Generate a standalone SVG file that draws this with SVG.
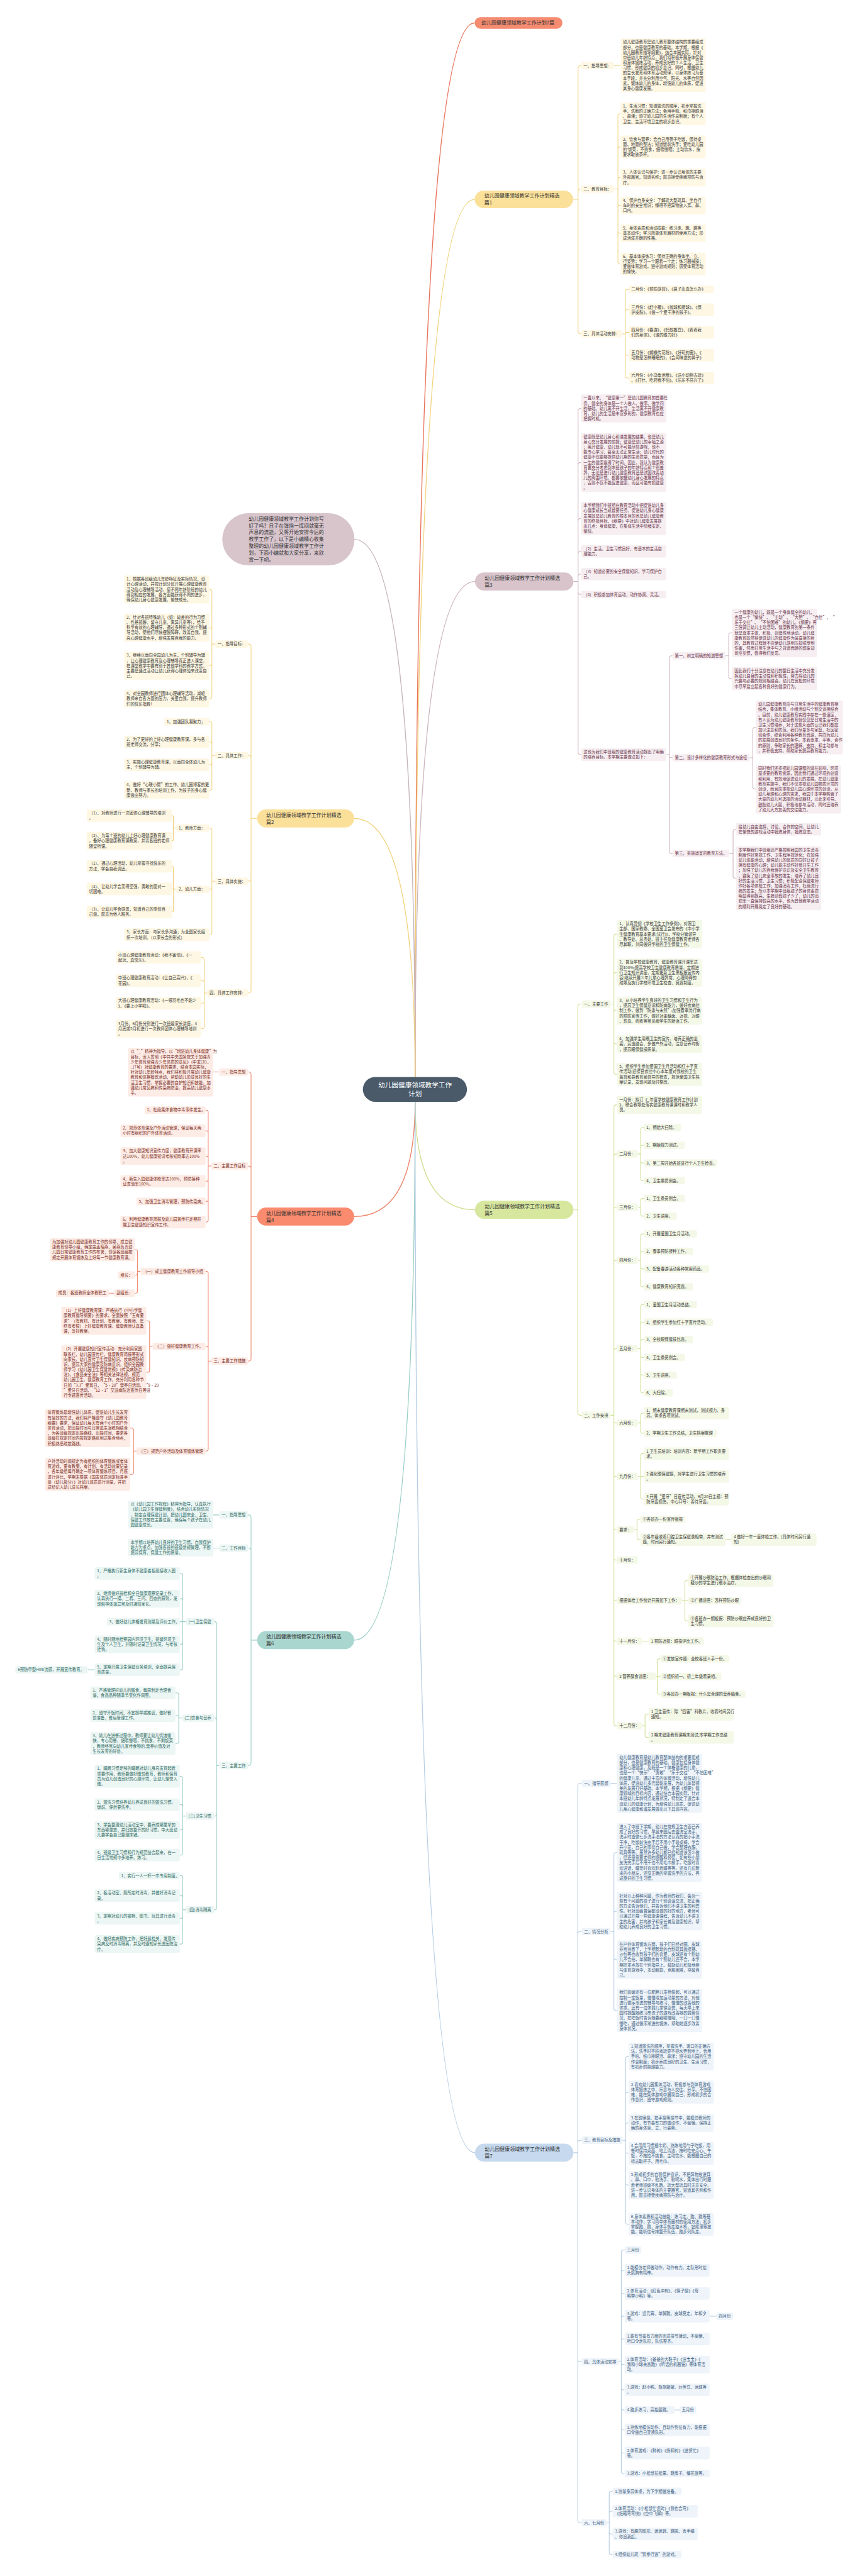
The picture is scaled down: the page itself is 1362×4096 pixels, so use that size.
<svg xmlns="http://www.w3.org/2000/svg" width="1362" height="4096" viewBox="0 0 1362 4096">
<style>
text{font-family:"Noto Sans CJK SC","Noto Sans",sans-serif}
.t{font-size:12px}
.n{font-size:15px;fill:#333}
.ty{fill:#3a3a3a}.tm{fill:#6b3349}.tg{fill:#3a3a3a}.tb{fill:#3d5d80}.to{fill:#7b2d1f}.tt{fill:#2e6b64}
.ry{fill:#fef7e3}.rm{fill:#f6eef1}.rg{fill:#f4f8e7}.rb{fill:#eef4fa}.ro{fill:#fdebe5}.rt{fill:#ecf6f4}
.l{fill:none;stroke-width:2}
.m{fill:none;stroke-width:2.6}
.ly{stroke:#f2d27c}.lm{stroke:#cdb5be}.lg{stroke:#cde08f}.lb{stroke:#b4cce4}.lo{stroke:#ee8468}.lt{stroke:#98cec5}
</style>
<rect width="1362" height="4096" fill="#ffffff"/>
<g transform="scale(0.532)">
<g id="connectors">
<path class="m" stroke="#e8735b" d="M1240 3219Q1240 68 1418 68.5"/>
<path class="m ly" d="M1240 3219Q1240 596 1418 596"/>
<path class="m" stroke="#c5b6bc" d="M1240 3219Q1240 1612 1059 1612"/>
<path class="m lm" d="M1240 3219Q1240 1738 1419 1738"/>
<path class="m ly" d="M1240 3219Q1240 2446 1058 2446"/>
<path class="m lg" d="M1240 3293Q1240 3616 1419 3616"/>
<path class="m lo" d="M1240 3293Q1240 3636 1058 3636"/>
<path class="m lt" d="M1240 3293Q1240 4902 1058 4902"/>
<path class="m lb" d="M1240 3293Q1240 6434 1419 6434"/>
<path class="l ly" d="M1712 596H1727V204Q1727 196 1735 196H1736M1712 596H1727V573Q1727 565 1735 565H1736M1712 596H1727V990Q1727 998 1735 998H1736M1834 196H1854M1834 565H1846V346.1Q1846 340.1 1852 340.1H1854M1834 565H1846V445.1Q1846 439.1 1852 439.1H1854M1834 565H1846V536.4Q1846 530.4 1852 530.4H1854M1834 565H1846V608.4Q1846 614.4 1852 614.4H1854M1834 565H1846V691.4Q1846 697.4 1852 697.4H1854M1834 565H1846V783.1Q1846 789.1 1852 789.1H1854M1858 998H1868V871Q1868 865 1874 865H1879M1858 998H1868V931.7Q1868 925.7 1874 925.7H1879M1858 998H1868V993.7H1879M1858 998H1868V1055.7Q1868 1061.7 1874 1061.7H1879M1858 998H1868V1123.7Q1868 1129.7 1874 1129.7H1879"/>
<path class="l lm" d="M1713 1738H1727V1228.8Q1727 1220.8 1735 1220.8H1736M1713 1738H1727V1390Q1727 1382 1735 1382H1736M1713 1738H1727V1557.5Q1727 1549.5 1735 1549.5H1736M1713 1738H1727V1655.7Q1727 1647.7 1735 1647.7H1736M1713 1738H1727V1723.7Q1727 1715.7 1735 1715.7H1736M1713 1738H1727V1769Q1727 1777 1735 1777H1736M1713 1738H1727V2247.7Q1727 2255.7 1735 2255.7H1736M1990 2255.7H2000V1966Q2000 1960 2006 1960H2009M1990 2255.7H2000V2259Q2000 2265 2006 2265H2009M1990 2255.7H2000V2545Q2000 2551 2006 2551H2009M2167 1960H2177V1897.6Q2177 1891.6 2183 1891.6H2187M2167 1960H2177V2022.1Q2177 2028.1 2183 2028.1H2187M2239 2265H2249V2180.3Q2249 2174.3 2255 2174.3H2258M2239 2265H2249V2352.6Q2249 2358.6 2255 2358.6H2258M2179 2551H2190V2484.7Q2190 2478.7 2196 2478.7H2199M2179 2551H2190V2618.7Q2190 2624.7 2196 2624.7H2199"/>
<path class="l lg" d="M1713 3616H1726V3009Q1726 3001 1734 3001H1738M1713 3616H1726V4222Q1726 4230 1734 4230H1738M1824 3001H1834V2797.8Q1834 2791.8 1840 2791.8H1843M1824 3001H1834V2912.8Q1834 2906.8 1840 2906.8H1843M1824 3001H1834V3014.8Q1834 3020.8 1840 3020.8H1843M1824 3001H1834V3114.4Q1834 3120.4 1840 3120.4H1843M1824 3001H1834V3205.1Q1834 3211.1 1840 3211.1H1843M1824 4230H1834V3308.4Q1834 3302.4 1840 3302.4H1843M1824 4230H1834V3455Q1834 3449 1840 3449H1843M1824 4230H1834V3614Q1834 3608 1840 3608H1843M1824 4230H1834V3773Q1834 3767 1840 3767H1843M1824 4230H1834V4037Q1834 4031 1840 4031H1843M1824 4230H1834V4247Q1834 4253 1840 4253H1843M1824 4230H1834V4407Q1834 4413 1840 4413H1843M1824 4230H1834V4566Q1834 4572 1840 4572H1843M1824 4230H1834V4657Q1834 4663 1840 4663H1843M1824 4230H1834V4778Q1834 4784 1840 4784H1843M1824 4230H1834V4899Q1834 4905 1840 4905H1843M1824 4230H1834V5004Q1834 5010 1840 5010H1843M1824 4230H1834V5152Q1834 5158 1840 5158H1843M1905 3449H1914V3376Q1914 3370 1920 3370H1924M1905 3449H1914V3429Q1914 3423 1920 3423H1924M1905 3449H1914V3470Q1914 3476 1920 3476H1924M1905 3449H1914V3523Q1914 3529 1920 3529H1924M1905 3608H1914V3588Q1914 3582 1920 3582H1924M1905 3608H1914V3629Q1914 3635 1920 3635H1924M1905 3767H1914V3694Q1914 3688 1920 3688H1924M1905 3767H1914V3746Q1914 3740 1920 3740H1924M1905 3767H1914V3787Q1914 3793 1920 3793H1924M1905 3767H1914V3840Q1914 3846 1920 3846H1924M1905 4031H1914V3905Q1914 3899 1920 3899H1924M1905 4031H1914V3958Q1914 3952 1920 3952H1924M1905 4031H1914V4010Q1914 4004 1920 4004H1924M1905 4031H1914V4051Q1914 4057 1920 4057H1924M1905 4031H1914V4104Q1914 4110 1920 4110H1924M1905 4031H1914V4157Q1914 4163 1920 4163H1924M1905 4253H1914V4229.7Q1914 4223.7 1920 4223.7H1924M1905 4253H1914V4278Q1914 4284 1920 4284H1924M1905 4413H1914V4350.7Q1914 4344.7 1920 4344.7H1924M1905 4413H1914V4412.7H1924M1905 4413H1914V4474.7Q1914 4480.7 1920 4480.7H1924M1893 4572H1903V4547Q1903 4541 1909 4541H1913M1893 4572H1903V4595.7Q1903 4601.7 1909 4601.7H1913M2167 4601.7H2185M2037 4784H2046V4729.7Q2046 4723.7 2052 4723.7H2056M2037 4784H2056M2037 4784H2046V4838.7Q2046 4844.7 2052 4844.7H2056M1917 4905H1938M1959 5010H1964V4964Q1964 4958 1970 4958H1973M1959 5010H1964V5011H1973M1959 5010H1964V5058Q1964 5064 1970 5064H1973M1917 5158H1927V5129.7Q1927 5123.7 1933 5123.7H1938M1917 5158H1927V5186.7Q1927 5192.7 1933 5192.7H1938"/>
<path class="l lb" d="M1713 6434H1726V5338Q1726 5330 1734 5330H1738M1713 6434H1726V5781Q1726 5773 1734 5773H1738M1713 6434H1726V6405Q1726 6397 1734 6397H1738M1713 6434H1726V7051Q1726 7059 1734 7059H1738M1713 6434H1726V7532Q1726 7540 1734 7540H1738M1824 5330H1843M1824 5773H1834V5543Q1834 5537 1840 5537H1843M1824 5773H1834V5718.2Q1834 5712.2 1840 5712.2H1843M1824 5773H1834V5851.2Q1834 5857.2 1840 5857.2H1843M1824 5773H1834V6002.9Q1834 6008.9 1840 6008.9H1843M1860 6397H1869V6152.8Q1869 6146.8 1875 6146.8H1878M1860 6397H1869V6259.1Q1869 6253.1 1875 6253.1H1878M1860 6397H1869V6351.4Q1869 6345.4 1875 6345.4H1878M1860 6397H1869V6430.1Q1869 6436.1 1875 6436.1H1878M1860 6397H1869V6524.8Q1869 6530.8 1875 6530.8H1878M1860 6397H1869V6642.1Q1869 6648.1 1875 6648.1H1878M1848 7059H1856V6731Q1856 6725 1862 6725H1866M1848 7059H1856V6791.7Q1856 6785.7 1862 6785.7H1866M1848 7059H1856V6860.7Q1856 6854.7 1862 6854.7H1866M1848 7059H1856V6928.7Q1856 6922.7 1862 6922.7H1866M1848 7059H1856V6996.7Q1856 6990.7 1862 6990.7H1866M1848 7059H1856V7061.4Q1856 7067.4 1862 7067.4H1866M1848 7059H1856V7136.7Q1856 7142.7 1862 7142.7H1866M1848 7059H1856V7197Q1856 7203 1862 7203H1866M1848 7059H1856V7256.7Q1856 7262.7 1862 7262.7H1866M1848 7059H1856V7325.7Q1856 7331.7 1862 7331.7H1866M1848 7059H1856V7387Q1856 7393 1862 7393H1866M2120 6922.7H2140M2016 7203H2030M1812 7540H1820V7452Q1820 7446 1826 7446H1830M1812 7540H1820V7511.7Q1820 7505.7 1826 7505.7H1830M1812 7540H1820V7567.7Q1820 7573.7 1826 7573.7H1830M1812 7540H1820V7629Q1820 7635 1826 7635H1830"/>
<path class="l ly" d="M768 2446H750V1933Q750 1925 742 1925H741M768 2446H750V2266Q750 2258 742 2258H741M768 2446H750V2626Q750 2634 742 2634H741M768 2446H750V2960Q750 2968 742 2968H741M643 1925H633V1767.8Q633 1761.8 627 1761.8H625M643 1925H633V1881.8Q633 1875.8 627 1875.8H625M643 1925H633V1983.8Q633 1989.8 627 1989.8H625M643 1925H633V2082.4Q633 2088.4 627 2088.4H625M643 2258H633V2163Q633 2157 627 2157H625M643 2258H633V2223.7Q633 2217.7 627 2217.7H625M643 2258H633V2279.7Q633 2285.7 627 2285.7H625M643 2258H633V2355.4Q633 2361.4 627 2361.4H625M643 2634H633V2481Q633 2475 627 2475H625M643 2634H633V2652Q633 2658 627 2658H625M643 2634H633V2787.7Q633 2793.7 627 2793.7H625M527 2475H518V2442.7Q518 2437.7 513 2437.7M527 2475H518V2508.4Q518 2513.4 513 2513.4M527 2658H518V2593.7Q518 2588.7 513 2588.7M527 2658H518V2656.7H513M527 2658H518V2720.7Q518 2725.7 513 2725.7M619 2968H610V2867.7Q610 2861.7 604 2861.7H600M619 2968H610V2936.7Q610 2930.7 604 2930.7H600M619 2968H610V2992.7Q610 2998.7 604 2998.7H600M619 2968H610V3068.4Q610 3074.4 604 3074.4H600"/>
<path class="l lo" d="M768 3636H750V3212Q750 3204 742 3204H741M768 3636H750V3493Q750 3485 742 3485H741M768 3636H750V4060Q750 4068 742 4068H741M655 3204H637M631 3485H622V3324Q622 3318 616 3318H614M631 3485H622V3385.7Q622 3379.7 616 3379.7H614M631 3485H622V3461.4Q622 3455.4 616 3455.4H614M631 3485H622V3524.7Q622 3530.7 616 3530.7H614M631 3485H622V3585Q622 3591 616 3591H614M631 3485H622V3646.7Q622 3652.7 616 3652.7H614M631 4068H622V3806Q622 3800 616 3800H614M631 4068H622V4030Q622 4024 616 4024H614M631 4068H622V4331Q622 4337 616 4337H614M420 3800H411V3741.1Q411 3735.1 405 3735.1H403M420 3800H411V3805Q411 3811 405 3811H403M420 3800H411V3859Q411 3865 405 3865H403M341 3865H325M456 4024H447V3953.8Q447 3947.8 441 3947.8H437M456 4024H447V4095.3Q447 4101.3 441 4101.3H437M408 4337H399V4274.2Q399 4268.2 393 4268.2H389M408 4337H399V4400.5Q399 4406.5 393 4406.5H389"/>
<path class="l lt" d="M768 4902H750V4536Q750 4528 742 4528H741M768 4902H750V4635Q750 4627 742 4627H741M768 4902H750V5269Q750 5277 742 5277H741M655 4528H637M655 4627H637M655 5277H647V4853Q647 4847 642 4847H640M655 5277H647V5141Q647 5135 642 5135H640M655 5277H647V5422Q647 5428 642 5428H640M655 5277H647V5702Q647 5708 642 5708H640M556 4847H546V4708.7Q546 4702.7 540 4702.7H537M556 4847H546V4784.4Q546 4778.4 540 4778.4H537M556 4847H537M556 4847H546V4908.4Q546 4914.4 540 4914.4H537M556 4847H546V4984.7Q546 4990.7 540 4990.7H537M283 4990.7H262M544 5135H534V5065.7Q534 5059.7 528 5059.7H524M544 5135H534V5127.7H524M544 5135H534V5205.1Q534 5211.1 528 5211.1H524M556 5428H546V5315.1Q546 5309.1 540 5309.1H537M556 5428H546V5399.7Q546 5393.7 540 5393.7H537M556 5428H546V5463.4Q546 5469.4 540 5469.4H537M556 5428H546V5538.7Q546 5544.7 540 5544.7H537M556 5708H546V5612Q546 5606 540 5606H537M556 5708H546V5671.7Q546 5665.7 540 5665.7H537M556 5708H546V5727.7Q546 5733.7 540 5733.7H537M556 5708H546V5804.4Q546 5810.4 540 5810.4H537"/>
</g>

<g id="root"><rect x="1084" y="3219" width="311" height="74" rx="37" fill="#4a5a69"/><text x="1240" y="3250" font-size="20" fill="#ffffff" text-anchor="middle"><tspan x="1240">幼儿园健康领域教学工作</tspan><tspan x="1240" dy="27">计划</tspan></text></g>

<g id="n-title"><rect x="1418" y="51" width="262" height="35" rx="17.5" fill="#f58b70"/><text class="n" x="1438" y="74">幼儿园健康领域教学工作计划7篇</text></g>

<g id="n-intro"><rect x="664" y="1534" width="395" height="156" rx="78" fill="#d8c5cc"/><text class="n" x="743" y="1556"><tspan x="743">幼儿园健康领域教学工作计划你写</tspan><tspan x="743" dy="20.4">好了吗？日子在弹指一挥间就毫无</tspan><tspan x="743" dy="20.4">声息的流逝，又将开始安排今后的</tspan><tspan x="743" dy="20.4">教学工作了，以下是小编精心收集</tspan><tspan x="743" dy="20.4">整理的幼儿园健康领域教学工作计</tspan><tspan x="743" dy="20.4">划，下面小编就和大家分享，来欣</tspan><tspan x="743" dy="20.4">赏一下吧。</tspan></text></g>

<!-- 篇1 -->
<g id="n-p1"><rect x="1418" y="570" width="294" height="52" rx="26" fill="#fbe09a"/><text class="n" x="1447" y="590"><tspan x="1447">幼儿园健康领域教学工作计划精选</tspan><tspan x="1447" dy="21">篇1</tspan></text></g>
<g id="p1-l1"><rect class="ry" x="1736" y="185" width="98" height="22" rx="4"/><text class="t ty" x="1743" y="200.3">一、指导思想：</text></g>
<g id="p1-b1"><rect class="ry" x="1854" y="115" width="254" height="160.6" rx="4"/><text class="t ty" x="1861" y="130.3"><tspan x="1861">幼儿健康教育是幼儿教育整体结构的重要组成</tspan><tspan x="1861" dy="15.4">部分，也是健康教育的基础。本学期，根据《</tspan><tspan x="1861" dy="15.4">幼儿园教育指导纲要》，结合本园实际，针对</tspan><tspan x="1861" dy="15.4">中班幼儿年龄特点，我们将积极开展身体保健</tspan><tspan x="1861" dy="15.4">和身体锻炼活动，养成良好的个人生活、卫生</tspan><tspan x="1861" dy="15.4">习惯，形成健康的初步意识。同时，根据幼儿</tspan><tspan x="1861" dy="15.4">的生长发育和体育活动规律，以身体练习为基</tspan><tspan x="1861" dy="15.4">本手段，并充分利用空气、阳光、水等自然因</tspan><tspan x="1861" dy="15.4">素，锻炼幼儿的身体，增强幼儿的体质，促进</tspan><tspan x="1861" dy="15.4">其身心健康发展。</tspan></text></g>
<g id="p1-l2"><rect class="ry" x="1736" y="554" width="98" height="22" rx="4"/><text class="t ty" x="1743" y="569.3">二、教育目标：</text></g>
<g id="p1-b2"><rect class="ry" x="1854" y="306" width="254" height="68.2" rx="4"/><text class="t ty" x="1861" y="321.3"><tspan x="1861">1、生活习惯：知道盥洗的顺序，初步掌握洗</tspan><tspan x="1861" dy="15.4">手、洗脸的正确方法；会用手帕、纸巾擦眼泪</tspan><tspan x="1861" dy="15.4">、鼻涕；遵守幼儿园的生活作息制度；有个人</tspan><tspan x="1861" dy="15.4">卫生、生活环境卫生的初步意识。</tspan></text></g>
<g id="p1-b3"><rect class="ry" x="1854" y="405" width="254" height="68.2" rx="4"/><text class="t ty" x="1861" y="420.3"><tspan x="1861">2、饮食与营养：会自己用筷子吃饭，保持桌</tspan><tspan x="1861" dy="15.4">面、地面的整洁；知道饭前洗手；爱吃幼儿园</tspan><tspan x="1861" dy="15.4">的'饭菜，不挑食，细嚼慢咽；主动饮水，按</tspan><tspan x="1861" dy="15.4">要求取放茶杯。</tspan></text></g>
<g id="p1-b4"><rect class="ry" x="1854" y="504" width="254" height="52.8" rx="4"/><text class="t ty" x="1861" y="519.3"><tspan x="1861">3、人体认识与保护：进一步认识身体的主要</tspan><tspan x="1861" dy="15.4">外部器官，知道名称；愿意接受疾病预防与治</tspan><tspan x="1861" dy="15.4">疗。</tspan></text></g>
<g id="p1-b5"><rect class="ry" x="1854" y="588" width="254" height="52.8" rx="4"/><text class="t ty" x="1861" y="603.3"><tspan x="1861">4、保护自身安全：了解玩大型玩具、坐自行</tspan><tspan x="1861" dy="15.4">车时的安全常识；懂得不把异物放入耳、鼻、</tspan><tspan x="1861" dy="15.4">口内。</tspan></text></g>
<g id="p1-b6"><rect class="ry" x="1854" y="671" width="254" height="52.8" rx="4"/><text class="t ty" x="1861" y="686.3"><tspan x="1861">5、身体素质和活动技能：练习走、跑、跳等</tspan><tspan x="1861" dy="15.4">基本动作；学习简单体育器材的使用方法；形</tspan><tspan x="1861" dy="15.4">成活泼开朗的性格。</tspan></text></g>
<g id="p1-b7"><rect class="ry" x="1854" y="755" width="254" height="68.2" rx="4"/><text class="t ty" x="1861" y="770.3"><tspan x="1861">6、基本体操练习：保持正确的身体坐、立、</tspan><tspan x="1861" dy="15.4">行姿势；学习一个跟着一个走；练习器械操；</tspan><tspan x="1861" dy="15.4">爱做体育游戏，遵守游戏规则；感受体育活动</tspan><tspan x="1861" dy="15.4">的愉快。</tspan></text></g>
<g id="p1-l3"><rect class="ry" x="1736" y="987" width="122" height="22" rx="4"/><text class="t ty" x="1743" y="1002.3">三、具体活动安排：</text></g>
<g id="p1-m1"><rect class="ry" x="1879" y="854" width="254" height="22" rx="4"/><text class="t ty" x="1886" y="869.3">二月份：《预防感冒》、《鼻子出血怎么办》</text></g>
<g id="p1-m2"><rect class="ry" x="1879" y="907" width="254" height="37.4" rx="4"/><text class="t ty" x="1886" y="922.3"><tspan x="1886">三月份：《赶小猪》、《抛球和接球》、《保</tspan><tspan x="1886" dy="15.4">护皮肤》、《做一个爱干净的孩子》、</tspan></text></g>
<g id="p1-m3"><rect class="ry" x="1879" y="975" width="254" height="37.4" rx="4"/><text class="t ty" x="1886" y="990.3"><tspan x="1886">四月份：《春游》、《蚂蚁搬豆》、《看看我</tspan><tspan x="1886" dy="15.4">们的身体》、《谁的眼力好》</tspan></text></g>
<g id="p1-m4"><rect class="ry" x="1879" y="1043" width="254" height="37.4" rx="4"/><text class="t ty" x="1886" y="1058.3"><tspan x="1886">五月份：《蝴蝶传花粉》、《好玩的圈》、《</tspan><tspan x="1886" dy="15.4">动物是怎样睡眠的》、《会闻味道的鼻子》</tspan></text></g>
<g id="p1-m5"><rect class="ry" x="1879" y="1111" width="254" height="37.4" rx="4"/><text class="t ty" x="1886" y="1126.3"><tspan x="1886">六月份：《小乌龟运粮》、《送小动物去玩》</tspan><tspan x="1886" dy="15.4">、《打针、吃药我不怕》、《乐乐不高兴了》</tspan></text></g>

<!-- 篇3 -->
<g id="n-p3"><rect x="1419" y="1711" width="294" height="54" rx="27" fill="#d9c4cb"/><text class="n" x="1448" y="1733"><tspan x="1448">幼儿园健康领域教学工作计划精选</tspan><tspan x="1448" dy="21">篇3</tspan></text></g>
<g id="p3-a"><rect class="rm" x="1736" y="1179" width="254" height="83.6" rx="4"/><text class="t tm" x="1743" y="1194.3"><tspan x="1743">一直以来，“健康第一”是幼儿园教育的首要任</tspan><tspan x="1743" dy="15.4">务。健全的身体是一个人做人、做事、做学问</tspan><tspan x="1743" dy="15.4">的基础。幼儿离不开生活，生活离不开健康教</tspan><tspan x="1743" dy="15.4">育，幼儿的生活是丰富多彩的，健康教育也应</tspan><tspan x="1743" dy="15.4">把握时机。</tspan></text></g>
<g id="p3-b"><rect class="rm" x="1736" y="1294" width="254" height="176" rx="4"/><text class="t tm" x="1743" y="1309.3"><tspan x="1743">健康既是幼儿身心和谐发展的结果，也是幼儿</tspan><tspan x="1743" dy="15.4">身心充分发展的前提；健康是幼儿的幸福之源</tspan><tspan x="1743" dy="15.4">；离开健康，幼儿就不可能尽情游戏，也不</tspan><tspan x="1743" dy="15.4">能专心学习，甚至无法正常生活；幼儿时代的</tspan><tspan x="1743" dy="15.4">健康不仅能够提供幼儿期的生命质量，而且为</tspan><tspan x="1743" dy="15.4">一生的健康赢得了时间。因此，我认为健康教</tspan><tspan x="1743" dy="15.4">育要充分考虑到本班孩子的年龄特点和个别差</tspan><tspan x="1743" dy="15.4">异，无论是进行幼儿健康教育还是试图改善幼</tspan><tspan x="1743" dy="15.4">儿的周围环境、都要依据幼儿身心发展的特点</tspan><tspan x="1743" dy="15.4">，否则不仅不能促进健康，而且可能有损健康</tspan><tspan x="1743" dy="15.4">。</tspan></text></g>
<g id="p3-c"><rect class="rm" x="1736" y="1500" width="254" height="99" rx="4"/><text class="t tm" x="1743" y="1515.3"><tspan x="1743">本学期我们中班组在教育活动中把促进幼儿身</tspan><tspan x="1743" dy="15.4">心健康成长当成首要任务。促进幼儿身心健康</tspan><tspan x="1743" dy="15.4">发展既是幼儿教育的根本目的也是幼儿健康教</tspan><tspan x="1743" dy="15.4">育的终极目标，《纲要》中对幼儿健康发展提</tspan><tspan x="1743" dy="15.4">出几点：身体健康，在集体生活中情绪安定、</tspan><tspan x="1743" dy="15.4">愉快。</tspan></text></g>
<g id="p3-d"><rect class="rm" x="1736" y="1629" width="254" height="37.4" rx="4"/><text class="t tm" x="1743" y="1644.3"><tspan x="1743">（2）生活、卫生习惯良好，有基本的生活自</tspan><tspan x="1743" dy="15.4">理能力。</tspan></text></g>
<g id="p3-e"><rect class="rm" x="1736" y="1697" width="254" height="37.4" rx="4"/><text class="t tm" x="1743" y="1712.3"><tspan x="1743">（3）知道必要的安全保健知识，学习保护自</tspan><tspan x="1743" dy="15.4">己。</tspan></text></g>
<g id="p3-f"><rect class="rm" x="1736" y="1766" width="254" height="22" rx="4"/><text class="t tm" x="1743" y="1781.3">（4）积极参加体育运动，动作协调、灵活。</text></g>
<g id="p3-g"><rect class="rm" x="1736" y="2237" width="254" height="37.4" rx="4"/><text class="t tm" x="1743" y="2252.3"><tspan x="1743">这也为我们中班组的健康教育活动提出了明确</tspan><tspan x="1743" dy="15.4">的培养目标。本学期主要做法如下：</tspan></text></g>
<g id="p3-g1"><rect class="rm" x="2009" y="1949" width="158" height="22" rx="4"/><text class="t tm" x="2016" y="1964.3">第一、树立明确的知道思想</text></g>
<g id="p3-g1a"><rect class="rm" x="2187" y="1819" width="254" height="145.2" rx="4"/><text class="t tm" x="2194" y="1834.3"><tspan x="2194">一个健康的幼儿，既是一个身体健全的幼儿，</tspan><tspan x="2194" dy="15.4">也是一个“愉快”、“主动”、“大胆”、“自信”、“</tspan><tspan x="2194" dy="15.4">乐于交往”、“不怕困难”的幼儿。《纲要》再</tspan><tspan x="2194" dy="15.4">三强调让幼儿主动活动，健康教育的第一条件</tspan><tspan x="2194" dy="15.4">就是尊重主体、积极、创造性地活动。幼儿健</tspan><tspan x="2194" dy="15.4">康教育既然将促进幼儿的健康作为最直接的目</tspan><tspan x="2194" dy="15.4">的，其教育过程就不应使幼儿感到压抑或受到</tspan><tspan x="2194" dy="15.4">伤害，然而日常生活中与之背道而驰的现象却</tspan><tspan x="2194" dy="15.4">司空见惯，值得我们反思。</tspan></text></g>
<g id="p3-g1b"><rect class="rm" x="2187" y="1994" width="254" height="68.2" rx="4"/><text class="t tm" x="2194" y="2009.3"><tspan x="2194">因此我们十分注意在幼儿的整日生活中充分发</tspan><tspan x="2194" dy="15.4">挥幼儿自身的主动性和积极性，努力将幼儿的</tspan><tspan x="2194" dy="15.4">兴趣与必要的规则相结合。幼儿在宽松的环境</tspan><tspan x="2194" dy="15.4">中尽早建立起各种良好的健康行为。</tspan></text></g>
<g id="p3-g2"><rect class="rm" x="2009" y="2254" width="230" height="22" rx="4"/><text class="t tm" x="2016" y="2269.3">第二、设计多样化的健康教育形式与途径</text></g>
<g id="p3-g2a"><rect class="rm" x="2258" y="2094" width="260" height="160.6" rx="4"/><text class="t tm" x="2265" y="2109.3"><tspan x="2265">幼儿园健康教育应与日常生活中的健康教育相</tspan><tspan x="2265" dy="15.4">结合，集体教育、小组活动与个别交谈相结合</tspan><tspan x="2265" dy="15.4">。目前，幼儿健康教育实践中存在一些误区，</tspan><tspan x="2265" dy="15.4">有人认为幼儿健康教育就仅仅是日常生活中的</tspan><tspan x="2265" dy="15.4">卫生习惯培养，对于这些片面的认识我们都应</tspan><tspan x="2265" dy="15.4">加以注意和防范。我们尽量多与家庭、社区密</tspan><tspan x="2265" dy="15.4">切合作，综合利用各种教育资源，共同为幼儿</tspan><tspan x="2265" dy="15.4">的发展创造良好的条件。本着尊重、平等、合作</tspan><tspan x="2265" dy="15.4">的原则，争取家长的理解、支持、和主动参与</tspan><tspan x="2265" dy="15.4">，并积极支持、帮助家长提高教育能力。</tspan></text></g>
<g id="p3-g2b"><rect class="rm" x="2258" y="2286" width="254" height="145.2" rx="4"/><text class="t tm" x="2265" y="2301.3"><tspan x="2265">同时我们还重视幼儿园课程的潜在影响，环境</tspan><tspan x="2265" dy="15.4">是重要的教育资源，因此我们通过环境的创设</tspan><tspan x="2265" dy="15.4">和利用，有效地促进幼儿的发展。在幼儿健康</tspan><tspan x="2265" dy="15.4">教育实施中，我们不仅重视幼儿园物质环境的</tspan><tspan x="2265" dy="15.4">创设，而且应重视幼儿园心理环境的创设。从</tspan><tspan x="2265" dy="15.4">幼儿身理和心理的需求，我园于本学期购置了</tspan><tspan x="2265" dy="15.4">大量的幼儿可选择的活动器材，以此来引导、</tspan><tspan x="2265" dy="15.4">鼓励幼儿大胆、积极地参与活动，同时还培养</tspan><tspan x="2265" dy="15.4">了幼儿大方友善的交往能力。</tspan></text></g>
<g id="p3-g3"><rect class="rm" x="2009" y="2540" width="170" height="22" rx="4"/><text class="t tm" x="2016" y="2555.3">第三、实施适宜的教育方法。</text></g>
<g id="p3-g3a"><rect class="rm" x="2199" y="2460" width="254" height="37.4" rx="4"/><text class="t tm" x="2206" y="2475.3"><tspan x="2206">给幼儿自由选择、讨论、合作的空间，让幼儿</tspan><tspan x="2206" dy="15.4">在愉快的游戏活动中锻炼身体，锻炼意志。</tspan></text></g>
<g id="p3-g3b"><rect class="rm" x="2199" y="2529" width="254" height="191.4" rx="4"/><text class="t tm" x="2206" y="2544.3"><tspan x="2206">本学期我们中班组还严格按照我园的卫生消毒</tspan><tspan x="2206" dy="15.4">制度作好常规工作，卫生程序规范化；在加强</tspan><tspan x="2206" dy="15.4">幼儿体能活动，增强幼儿的体质的同时让孩子</tspan><tspan x="2206" dy="15.4">拥有健康的心理；幼儿能主动作好值日生工作</tspan><tspan x="2206" dy="15.4">；加强了幼儿的自我保护意识及安全卫生教育</tspan><tspan x="2206" dy="15.4">，避免了幼儿安全事故的发生；培养了幼儿良</tspan><tspan x="2206" dy="15.4">好的生活习惯、卫生习惯；积极配合保健老师</tspan><tspan x="2206" dy="15.4">作好各项体检工作；加强消毒工作，杜绝流行</tspan><tspan x="2206" dy="15.4">病的发生；所以本学期中班组孩子的身体素质</tspan><tspan x="2206" dy="15.4">明显得到提高，生病请假孩子少了，幼儿的出</tspan><tspan x="2206" dy="15.4">勤率一直保持较高的水平，也为其他教学活动</tspan><tspan x="2206" dy="15.4">的顺利开展奠定了良好的基础。</tspan></text></g>

<!-- 篇5 -->
<g id="n-p5"><rect x="1419" y="3589" width="294" height="54" rx="27" fill="#d7e79e"/><text class="n" x="1448" y="3611"><tspan x="1448">幼儿园健康领域教学工作计划精选</tspan><tspan x="1448" dy="21">篇5</tspan></text></g>
<g id="p5-l1"><rect class="rg" x="1738" y="2990" width="86" height="22" rx="4"/><text class="t tg" x="1745" y="3005.3">一、主要工作</text></g>
<g id="p5-a1"><rect class="rg" x="1843" y="2750" width="254" height="83.6" rx="4"/><text class="t tg" x="1850" y="2765.3"><tspan x="1850">1、认真贯彻《学校卫生工作条例》，对照卫</tspan><tspan x="1850" dy="15.4">生部、国家教委、全国爱卫会发布的《中小学</tspan><tspan x="1850" dy="15.4">生健康教育基本要求(试行)》，学校分管领导</tspan><tspan x="1850" dy="15.4">、教导处、总务处、班主任及健康教育老师各</tspan><tspan x="1850" dy="15.4">尽其职，共同做好学校的卫生保健工作。</tspan></text></g>
<g id="p5-a2"><rect class="rg" x="1843" y="2865" width="254" height="83.6" rx="4"/><text class="t tg" x="1850" y="2880.3"><tspan x="1850">2、普及学校健康教育，健康教育课开课率达</tspan><tspan x="1850" dy="15.4">到100%;提高学校卫生健康教育质量，定期进</tspan><tspan x="1850" dy="15.4">行卫生知识讲座，定期更新卫生黑板报宣传内</tspan><tspan x="1850" dy="15.4">容;继续开展少年儿童心理异常、心理障碍的</tspan><tspan x="1850" dy="15.4">疏导及执行学校环境卫生检查、竞赛制度。</tspan></text></g>
<g id="p5-a3"><rect class="rg" x="1843" y="2979" width="254" height="83.6" rx="4"/><text class="t tg" x="1850" y="2994.3"><tspan x="1850">3、从小培养学生良好的卫生习惯和卫生行为</tspan><tspan x="1850" dy="15.4">，提高卫生保健意识和防病能力，做好疾病控</tspan><tspan x="1850" dy="15.4">制工作，做到“防患与未然”;加强春季流行病</tspan><tspan x="1850" dy="15.4">的预防宣传工作，做好对患龋齿、近视、沙眼</tspan><tspan x="1850" dy="15.4">、贫血、疥疮等常见病学生的矫治工作。</tspan></text></g>
<g id="p5-a4"><rect class="rg" x="1843" y="3094" width="254" height="52.8" rx="4"/><text class="t tg" x="1850" y="3109.3"><tspan x="1850">4、加强学生用眼卫生的宣传，培养正确的坐</tspan><tspan x="1850" dy="15.4">姿，劳逸结合、多做户外活动，注意营养均衡</tspan><tspan x="1850" dy="15.4">，提高眼保健操质量。</tspan></text></g>
<g id="p5-a5"><rect class="rg" x="1843" y="3177" width="254" height="68.2" rx="4"/><text class="t tg" x="1850" y="3192.3"><tspan x="1850">5、组织学生参加爱国卫生月活动和红十字宣</tspan><tspan x="1850" dy="15.4">传活动;迎接县疾控中心本年度对我校的卫生</tspan><tspan x="1850" dy="15.4">监督和县教育局督导的检查，规范爱国卫生档</tspan><tspan x="1850" dy="15.4">案记录，发现问题及时整改。</tspan></text></g>
<g id="p5-l2"><rect class="rg" x="1738" y="4219" width="86" height="22" rx="4"/><text class="t tg" x="1745" y="4234.3">二、工作安排</text></g>
<g id="p5-m1"><rect class="rg" x="1843" y="3276" width="254" height="52.8" rx="4"/><text class="t tg" x="1850" y="3291.3"><tspan x="1850">一月份：拟订《_年度学校健康教育工作计划</tspan><tspan x="1850" dy="15.4">》，联合教导处落实健康教育课课时和教学人</tspan><tspan x="1850" dy="15.4">员。</tspan></text></g>
<g id="p5-m2"><rect class="rg" x="1843" y="3438" width="62" height="22" rx="4"/><text class="t tg" x="1850" y="3453.3">二月份：</text></g>
<g id="p5-m2a"><rect class="rg" x="1924" y="3359" width="110" height="22" rx="4"/><text class="t tg" x="1931" y="3374.3">1、期始大扫除。</text></g>
<g id="p5-m2b"><rect class="rg" x="1924" y="3412" width="122" height="22" rx="4"/><text class="t tg" x="1931" y="3427.3">2、期始视力测试。</text></g>
<g id="p5-m2c"><rect class="rg" x="1924" y="3465" width="218" height="22" rx="4"/><text class="t tg" x="1931" y="3480.3">3、第二周开始各班进行个人卫生检查。</text></g>
<g id="p5-m2d"><rect class="rg" x="1924" y="3518" width="122" height="22" rx="4"/><text class="t tg" x="1931" y="3533.3">4、卫生委员例会。</text></g>
<g id="p5-m3"><rect class="rg" x="1843" y="3597" width="62" height="22" rx="4"/><text class="t tg" x="1850" y="3612.3">三月份：</text></g>
<g id="p5-m3a"><rect class="rg" x="1924" y="3571" width="122" height="22" rx="4"/><text class="t tg" x="1931" y="3586.3">1、卫生委员例会。</text></g>
<g id="p5-m3b"><rect class="rg" x="1924" y="3624" width="98" height="22" rx="4"/><text class="t tg" x="1931" y="3639.3">2、卫生讲座。</text></g>
<g id="p5-m4"><rect class="rg" x="1843" y="3756" width="62" height="22" rx="4"/><text class="t tg" x="1850" y="3771.3">四月份：</text></g>
<g id="p5-m4a"><rect class="rg" x="1924" y="3677" width="158" height="22" rx="4"/><text class="t tg" x="1931" y="3692.3">1、开展爱国卫生月活动。</text></g>
<g id="p5-m4b"><rect class="rg" x="1924" y="3729" width="146" height="22" rx="4"/><text class="t tg" x="1931" y="3744.3">2、春季预防接种工作。</text></g>
<g id="p5-m4c"><rect class="rg" x="1924" y="3782" width="194" height="22" rx="4"/><text class="t tg" x="1931" y="3797.3">3、配备春游活动各种常用药品。</text></g>
<g id="p5-m4d"><rect class="rg" x="1924" y="3835" width="146" height="22" rx="4"/><text class="t tg" x="1931" y="3850.3">4、健康教育知识竞赛。</text></g>
<g id="p5-m5"><rect class="rg" x="1843" y="4020" width="62" height="22" rx="4"/><text class="t tg" x="1850" y="4035.3">五月份：</text></g>
<g id="p5-m5a"><rect class="rg" x="1924" y="3888" width="158" height="22" rx="4"/><text class="t tg" x="1931" y="3903.3">1、爱国卫生月活动总结。</text></g>
<g id="p5-m5b"><rect class="rg" x="1924" y="3941" width="206" height="22" rx="4"/><text class="t tg" x="1931" y="3956.3">2、组织学生参加红十字宣传活动。</text></g>
<g id="p5-m5c"><rect class="rg" x="1924" y="3993" width="146" height="22" rx="4"/><text class="t tg" x="1931" y="4008.3">3、全校眼保健操比赛。</text></g>
<g id="p5-m5d"><rect class="rg" x="1924" y="4046" width="122" height="22" rx="4"/><text class="t tg" x="1931" y="4061.3">4、卫生委员例会。</text></g>
<g id="p5-m5e"><rect class="rg" x="1924" y="4099" width="98" height="22" rx="4"/><text class="t tg" x="1931" y="4114.3">5、卫生讲座。</text></g>
<g id="p5-m5f"><rect class="rg" x="1924" y="4152" width="86" height="22" rx="4"/><text class="t tg" x="1931" y="4167.3">6、大扫除。</text></g>
<g id="p5-m6"><rect class="rg" x="1843" y="4242" width="62" height="22" rx="4"/><text class="t tg" x="1850" y="4257.3">六月份：</text></g>
<g id="p5-m6a"><rect class="rg" x="1924" y="4205" width="254" height="37.4" rx="4"/><text class="t tg" x="1931" y="4220.3"><tspan x="1931">1、期末健康教育课期末测试，测试视力、身</tspan><tspan x="1931" dy="15.4">高、体重各项测试。</tspan></text></g>
<g id="p5-m6b"><rect class="rg" x="1924" y="4273" width="218" height="22" rx="4"/><text class="t tg" x="1931" y="4288.3">2、学期卫生工作总结，卫生档案整理</text></g>
<g id="p5-m7"><rect class="rg" x="1843" y="4402" width="62" height="22" rx="4"/><text class="t tg" x="1850" y="4417.3">九月份：</text></g>
<g id="p5-m7a"><rect class="rg" x="1924" y="4326" width="254" height="37.4" rx="4"/><text class="t tg" x="1931" y="4341.3"><tspan x="1931">1 卫生员培训：培训内容：新学期工作职责要</tspan><tspan x="1931" dy="15.4">求。</tspan></text></g>
<g id="p5-m7b"><rect class="rg" x="1924" y="4394" width="254" height="37.4" rx="4"/><text class="t tg" x="1931" y="4409.3"><tspan x="1931">2 强化眼保健操，对学生进行卫生习惯的培养</tspan><tspan x="1931" dy="15.4">。</tspan></text></g>
<g id="p5-m7c"><rect class="rg" x="1924" y="4462" width="254" height="37.4" rx="4"/><text class="t tg" x="1931" y="4477.3"><tspan x="1931">3 开展“爱牙”日宣传活动，9月20日主题：预</tspan><tspan x="1931" dy="15.4">防牙齿损伤。中心口号：善待牙齿。</tspan></text></g>
<g id="p5-m8"><rect class="rg" x="1843" y="4561" width="50" height="22" rx="4"/><text class="t tg" x="1850" y="4576.3">要求：</text></g>
<g id="p5-m8a"><rect class="rg" x="1913" y="4530" width="134" height="22" rx="4"/><text class="t tg" x="1920" y="4545.3">①各班办一份宣传板报</text></g>
<g id="p5-m8b"><rect class="rg" x="1913" y="4583" width="254" height="37.4" rx="4"/><text class="t tg" x="1920" y="4598.3"><tspan x="1920">②各年级收看口腔卫生保健录相带，并有测试</tspan><tspan x="1920" dy="15.4">题，时间另行通知。</tspan></text></g>
<g id="p5-m8c"><rect class="rg" x="2185" y="4583" width="254" height="37.4" rx="4"/><text class="t tg" x="2192" y="4598.3"><tspan x="2192">4 做好一年一度体检工作。(具体时间另行通</tspan><tspan x="2192" dy="15.4">知)</tspan></text></g>
<g id="p5-m9"><rect class="rg" x="1843" y="4652" width="62" height="22" rx="4"/><text class="t tg" x="1850" y="4667.3">十月份：</text></g>
<g id="p5-m10"><rect class="rg" x="1843" y="4773" width="194" height="22" rx="4"/><text class="t tg" x="1850" y="4788.3">根据体检工作统计开展如下工作：</text></g>
<g id="p5-m10a"><rect class="rg" x="2056" y="4705" width="254" height="37.4" rx="4"/><text class="t tg" x="2063" y="4720.3"><tspan x="2063">①开展沙眼防治工作，根据体检查出的沙眼和</tspan><tspan x="2063" dy="15.4">疑沙的学生进行眼水治疗。</tspan></text></g>
<g id="p5-m10b"><rect class="rg" x="2056" y="4773" width="158" height="22" rx="4"/><text class="t tg" x="2063" y="4788.3">②广播讲座：怎样预防沙眼</text></g>
<g id="p5-m10c"><rect class="rg" x="2056" y="4826" width="254" height="37.4" rx="4"/><text class="t tg" x="2063" y="4841.3"><tspan x="2063">③各班办一期板报：预防沙眼应养成良好的卫</tspan><tspan x="2063" dy="15.4">生习惯。</tspan></text></g>
<g id="p5-m11"><rect class="rg" x="1843" y="4894" width="74" height="22" rx="4"/><text class="t tg" x="1850" y="4909.3">十一月份：</text></g>
<g id="p5-m11a"><rect class="rg" x="1938" y="4894" width="164" height="22" rx="4"/><text class="t tg" x="1945" y="4909.3">1 预防近视：眼操评比工作。</text></g>
<g id="p5-m12"><rect class="rg" x="1843" y="4999" width="116" height="22" rx="4"/><text class="t tg" x="1850" y="5014.3">2 营养膳食讲座：</text></g>
<g id="p5-m12a"><rect class="rg" x="1973" y="4947" width="206" height="22" rx="4"/><text class="t tg" x="1980" y="4962.3">①发放宣传题：全校各班人手一份。</text></g>
<g id="p5-m12b"><rect class="rg" x="1973" y="5000" width="182" height="22" rx="4"/><text class="t tg" x="1980" y="5015.3">②组织初一、初二年级看录相。</text></g>
<g id="p5-m12c"><rect class="rg" x="1973" y="5053" width="254" height="22" rx="4"/><text class="t tg" x="1980" y="5068.3">③各班办一期板报：什么是合理的营养膳食。</text></g>
<g id="p5-m13"><rect class="rg" x="1843" y="5147" width="74" height="22" rx="4"/><text class="t tg" x="1850" y="5162.3">十二月份：</text></g>
<g id="p5-m13a"><rect class="rg" x="1938" y="5105" width="254" height="37.4" rx="4"/><text class="t tg" x="1945" y="5120.3"><tspan x="1945">1 卫生宣传：除“四害”科教片，收看时间另行</tspan><tspan x="1945" dy="15.4">通知。</tspan></text></g>
<g id="p5-m13b"><rect class="rg" x="1938" y="5174" width="254" height="37.4" rx="4"/><text class="t tg" x="1945" y="5189.3"><tspan x="1945">2 期末健康教育课期末测试;本学期工作总结</tspan><tspan x="1945" dy="15.4">。</tspan></text></g>

<!-- 篇7 -->
<g id="n-p7"><rect x="1419" y="6407" width="294" height="54" rx="27" fill="#c6d9ee"/><text class="n" x="1448" y="6429"><tspan x="1448">幼儿园健康领域教学工作计划精选</tspan><tspan x="1448" dy="21">篇7</tspan></text></g>
<g id="p7-l1"><rect class="rb" x="1738" y="5319" width="86" height="22" rx="4"/><text class="t tb" x="1745" y="5334.3">一、指导思想</text></g>
<g id="p7-a"><rect class="rb" x="1843" y="5242" width="254" height="176" rx="4"/><text class="t tb" x="1850" y="5257.3"><tspan x="1850">幼儿健康教育是幼儿教育整体结构的重要组成</tspan><tspan x="1850" dy="15.4">部分，也是健康教育的基础。健康包括身体健</tspan><tspan x="1850" dy="15.4">康和心理健康，及既是一个体格健康的儿童，</tspan><tspan x="1850" dy="15.4">也是一个“快乐”“勇敢”“乐于交往”“不怕困难”</tspan><tspan x="1850" dy="15.4">的健康儿童。通过丰富的体锻活动，增强幼儿</tspan><tspan x="1850" dy="15.4">体质，促进幼儿多元智能发展，为幼儿体智德</tspan><tspan x="1850" dy="15.4">美的发展打好基础。本学期，根据《纲要》健</tspan><tspan x="1850" dy="15.4">康领域的目标内容，通过结合本园实际，针对</tspan><tspan x="1850" dy="15.4">本班幼儿年龄特点发展状况，特制定了适合本</tspan><tspan x="1850" dy="15.4">班幼儿的健康计划，为增强幼儿体质、促进幼</tspan><tspan x="1850" dy="15.4">儿身心健康和谐发展做出以下具体内容。</tspan></text></g>
<g id="p7-l2"><rect class="rb" x="1738" y="5762" width="86" height="22" rx="4"/><text class="t tb" x="1745" y="5777.3">二、情况分析</text></g>
<g id="p7-b1"><rect class="rb" x="1843" y="5449" width="254" height="176" rx="4"/><text class="t tb" x="1850" y="5464.3"><tspan x="1850">进入了中班下学期，幼儿在常规卫生方面已养</tspan><tspan x="1850" dy="15.4">成了良好的习惯，早晨来园后去盥洗室洗手，</tspan><tspan x="1850" dy="15.4">洗手时遵循七步洗手法的方法认真的把小手洗</tspan><tspan x="1850" dy="15.4">干净，吃饭前洗完手后不用小手碰桌椅，学会</tspan><tspan x="1850" dy="15.4">开小花，自己的事情自己做，学会整理衣服、</tspan><tspan x="1850" dy="15.4">玩具等等。虽然许多幼儿都已经知道该怎么做</tspan><tspan x="1850" dy="15.4">，但还是需要老师的提醒和督促，如有些小朋</tspan><tspan x="1850" dy="15.4">友洗完手后不甩干也不用毛巾擦手，吃饭时喜</tspan><tspan x="1850" dy="15.4">欢讲话，睡觉时喜欢趴着睡等等。还有几位新</tspan><tspan x="1850" dy="15.4">来的小朋友，还没正确的掌握洗手的方法，养</tspan><tspan x="1850" dy="15.4">成良好的卫生习惯。</tspan></text></g>
<g id="p7-b2"><rect class="rb" x="1843" y="5655" width="254" height="114.4" rx="4"/><text class="t tb" x="1850" y="5670.3"><tspan x="1850">针对以上种种问题，作为教师的我们，会对一</tspan><tspan x="1850" dy="15.4">些有个问题的孩子进行个别谈话交流，把正确</tspan><tspan x="1850" dy="15.4">的方法告诉他们，并告诉他们不讲卫生的利弊</tspan><tspan x="1850" dy="15.4">性。针对班级普遍都没做的好的地方，老师可</tspan><tspan x="1850" dy="15.4">以通过开展一些健康课课程，告诉幼儿不讲卫</tspan><tspan x="1850" dy="15.4">生的危害，并向孩子和家长普及健康知识，帮</tspan><tspan x="1850" dy="15.4">助幼儿养成良好的卫生习惯。</tspan></text></g>
<g id="p7-b3"><rect class="rb" x="1843" y="5800" width="254" height="114.4" rx="4"/><text class="t tb" x="1850" y="5815.3"><tspan x="1850">在户外体育锻炼方面，孩子们已经对圈、皮球</tspan><tspan x="1850" dy="15.4">非常熟悉了，上学期新增的自制玩具抛接器、</tspan><tspan x="1850" dy="15.4">沙包等也收到孩子们的喜爱。皮球还有个别幼</tspan><tspan x="1850" dy="15.4">儿不会拍，单脚跳也有个别幼儿还不会，本学</tspan><tspan x="1850" dy="15.4">期把重点放在个别指导上。鼓励幼儿积极地参</tspan><tspan x="1850" dy="15.4">与体育游戏中，多动脑筋，克服困难，突破自</tspan><tspan x="1850" dy="15.4">己。</tspan></text></g>
<g id="p7-b4"><rect class="rb" x="1843" y="5944" width="254" height="129.8" rx="4"/><text class="t tb" x="1850" y="5959.3"><tspan x="1850">我们班级还有一位肥胖儿童杨俊超，可以通过</tspan><tspan x="1850" dy="15.4">控制一定饭量，慢慢增加运动量的方法，对他</tspan><tspan x="1850" dy="15.4">进行循序渐进的辅导与练习，慢慢的改善他的</tspan><tspan x="1850" dy="15.4">体重。还有一位体弱儿童徐嘉悦，每天早上来</tspan><tspan x="1850" dy="15.4">园时提醒她练习串珠子的游戏改善她的弱势情</tspan><tspan x="1850" dy="15.4">况，在吃饭时告诉她要细嚼慢咽，一口一口慢</tspan><tspan x="1850" dy="15.4">慢吃，通过循序渐进的锻炼，帮助她逐步改善</tspan><tspan x="1850" dy="15.4">身体状况。</tspan></text></g>
<g id="p7-l3"><rect class="rb" x="1738" y="6386" width="122" height="22" rx="4"/><text class="t tb" x="1745" y="6401.3">三、教育目标及措施</text></g>
<g id="p7-c1"><rect class="rb" x="1878" y="6105" width="254" height="83.6" rx="4"/><text class="t tb" x="1885" y="6120.3"><tspan x="1885">1.知道盥洗的顺序，掌握洗手、漱口的正确方</tspan><tspan x="1885" dy="15.4">法，洗手时不嬉戏玩耍不把水弄到地上。会用</tspan><tspan x="1885" dy="15.4">手帕、纸巾擦眼泪、鼻涕；遵守幼儿园的生活</tspan><tspan x="1885" dy="15.4">作息制度；初步养成良好的卫生、生活习惯，</tspan><tspan x="1885" dy="15.4">有初步的自理能力。</tspan></text></g>
<g id="p7-c2"><rect class="rb" x="1878" y="6219" width="254" height="68.2" rx="4"/><text class="t tb" x="1885" y="6234.3"><tspan x="1885">2.喜欢幼儿园集体活动，积极参与到体育游戏</tspan><tspan x="1885" dy="15.4">体育锻炼之中，乐意与人交往、分享。不怕困</tspan><tspan x="1885" dy="15.4">难，能在集体游戏中展现自己，形成初步的合</tspan><tspan x="1885" dy="15.4">作意识，遵守游戏规则。</tspan></text></g>
<g id="p7-c3"><rect class="rb" x="1878" y="6319" width="254" height="52.8" rx="4"/><text class="t tb" x="1885" y="6334.3"><tspan x="1885">3.在韵律操、拍手操等操节中，能模仿教师的</tspan><tspan x="1885" dy="15.4">动作，有节奏有力的做动作，不偷懒。保持正</tspan><tspan x="1885" dy="15.4">确的身体坐、立、行姿势。</tspan></text></g>
<g id="p7-c4"><rect class="rb" x="1878" y="6402" width="254" height="68.2" rx="4"/><text class="t tb" x="1885" y="6417.3"><tspan x="1885">4.会用用习惯插牛奶、熟练地用勺子吃饭，用</tspan><tspan x="1885" dy="15.4">餐时保持桌面、地上清洁，按时吃完点心、午</tspan><tspan x="1885" dy="15.4">饭，不拖拉不挑食。主动饮水、能根据自己的</tspan><tspan x="1885" dy="15.4">标志取杯子、用毛巾。</tspan></text></g>
<g id="p7-c5"><rect class="rb" x="1878" y="6489" width="254" height="83.6" rx="4"/><text class="t tb" x="1885" y="6504.3"><tspan x="1885">5.形成初步的自我保护意识，不把异物放进耳</tspan><tspan x="1885" dy="15.4">、鼻、口中，勤洗手、勤喝水，集体出行时跟</tspan><tspan x="1885" dy="15.4">着老师班级不乱跑。玩大型玩具时注意安全。</tspan><tspan x="1885" dy="15.4">进一步认识身体的主要器官，知道其名称和作</tspan><tspan x="1885" dy="15.4">用，愿意接受疾病预防与治疗。</tspan></text></g>
<g id="p7-c6"><rect class="rb" x="1878" y="6614" width="254" height="68.2" rx="4"/><text class="t tb" x="1885" y="6629.3"><tspan x="1885">6.身体素质和活动技能：练习走、跑、跳等基</tspan><tspan x="1885" dy="15.4">本动作；学习简单体育器材的使用方法；初步</tspan><tspan x="1885" dy="15.4">掌握跑、跳，身体平衡走独木桥，钻爬滚等技</tspan><tspan x="1885" dy="15.4">能。能听信号排整齐队伍、跑步列队走。</tspan></text></g>
<g id="p7-l4"><rect class="rb" x="1738" y="7048" width="110" height="22" rx="4"/><text class="t tb" x="1745" y="7063.3">四、具体活动安排</text></g>
<g id="p7-d0"><rect class="rb" x="1866" y="6714" width="50" height="22" rx="4"/><text class="t tb" x="1873" y="6729.3">三月份</text></g>
<g id="p7-d1"><rect class="rb" x="1866" y="6767" width="254" height="37.4" rx="4"/><text class="t tb" x="1873" y="6782.3"><tspan x="1873">1.能模仿老师做动作，动作有力。走队形时抬</tspan><tspan x="1873" dy="15.4">头挺胸有精神。</tspan></text></g>
<g id="p7-d2"><rect class="rb" x="1866" y="6836" width="254" height="37.4" rx="4"/><text class="t tb" x="1873" y="6851.3"><tspan x="1873">2.体育活动：《红色冲刺》、《筷子操》《母</tspan><tspan x="1873" dy="15.4">鸭带小鸭》等。</tspan></text></g>
<g id="p7-d3"><rect class="rb" x="1866" y="6904" width="254" height="37.4" rx="4"/><text class="t tb" x="1873" y="6919.3"><tspan x="1873">3.游戏：运元宵、单脚跳、皮球竞走、年和夕</tspan><tspan x="1873" dy="15.4">等。</tspan></text></g>
<g id="p7-d3m"><rect class="rb" x="2140" y="6912" width="50" height="22" rx="4"/><text class="t tb" x="2147" y="6927.3">四月份</text></g>
<g id="p7-d4"><rect class="rb" x="1866" y="6972" width="254" height="37.4" rx="4"/><text class="t tb" x="1873" y="6987.3"><tspan x="1873">1.能有节奏有力度的完成操节律动，不偷懒，</tspan><tspan x="1873" dy="15.4">听口令走队形，队伍整齐。</tspan></text></g>
<g id="p7-d5"><rect class="rb" x="1866" y="7041" width="254" height="52.8" rx="4"/><text class="t tb" x="1873" y="7056.3"><tspan x="1873">2.体育活动：《爸爸的大鞋子》《送宝宝》《</tspan><tspan x="1873" dy="15.4">我和小球来赛跑》《听话的机器猫》等体育活</tspan><tspan x="1873" dy="15.4">动。</tspan></text></g>
<g id="p7-d6"><rect class="rb" x="1866" y="7124" width="254" height="37.4" rx="4"/><text class="t tb" x="1873" y="7139.3"><tspan x="1873">3.游戏：赶小鸭、瓶瓶罐罐、炒黄豆、运球等</tspan><tspan x="1873" dy="15.4">。</tspan></text></g>
<g id="p7-d7"><rect class="rb" x="1866" y="7192" width="150" height="22" rx="4"/><text class="t tb" x="1873" y="7207.3">4.跑步练习，高抬腿跳。</text></g>
<g id="p7-d7m"><rect class="rb" x="2030" y="7192" width="50" height="22" rx="4"/><text class="t tb" x="2037" y="7207.3">五月份</text></g>
<g id="p7-d8"><rect class="rb" x="1866" y="7244" width="254" height="37.4" rx="4"/><text class="t tb" x="1873" y="7259.3"><tspan x="1873">1.熟练地模仿动作、且动作到位有力，能根据</tspan><tspan x="1873" dy="15.4">口令做自己变换队形。</tspan></text></g>
<g id="p7-d9"><rect class="rb" x="1866" y="7313" width="254" height="37.4" rx="4"/><text class="t tb" x="1873" y="7328.3"><tspan x="1873">2.体育游戏：《种树》《熊和树》《送货忙》</tspan><tspan x="1873" dy="15.4">等。</tspan></text></g>
<g id="p7-d10"><rect class="rb" x="1866" y="7382" width="254" height="22" rx="4"/><text class="t tb" x="1873" y="7397.3">3.游戏：小松鼠拉松果、跳房子、编花篮等。</text></g>
<g id="p7-l5"><rect class="rb" x="1738" y="7529" width="74" height="22" rx="4"/><text class="t tb" x="1745" y="7544.3">六、七月份</text></g>
<g id="p7-e1"><rect class="rb" x="1830" y="7435" width="206" height="22" rx="4"/><text class="t tb" x="1837" y="7450.3">1.测量身高体重，为下学期做准备。</text></g>
<g id="p7-e2"><rect class="rb" x="1830" y="7487" width="254" height="37.4" rx="4"/><text class="t tb" x="1837" y="7502.3"><tspan x="1837">2.体育活动：《小松鼠忙运砖》《我也会弯》</tspan><tspan x="1837" dy="15.4">《纸箱弯弯绕》《空中飞脚》等。</tspan></text></g>
<g id="p7-e3"><rect class="rb" x="1830" y="7555" width="254" height="37.4" rx="4"/><text class="t tb" x="1837" y="7570.3"><tspan x="1837">3.游戏：有趣的图形、迷迷转、跳圈、丢手绢</tspan><tspan x="1837" dy="15.4">、你追我赶。</tspan></text></g>
<g id="p7-e4"><rect class="rb" x="1830" y="7624" width="206" height="22" rx="4"/><text class="t tb" x="1837" y="7639.3">4.组织幼儿玩“猜拳行进”的游戏。</text></g>

<!-- 篇2 -->
<g id="n-p2"><rect x="768" y="2419" width="290" height="54" rx="27" fill="#fbe09a"/><text class="n" x="795" y="2442"><tspan x="795">幼儿园健康领域教学工作计划精选</tspan><tspan x="795" dy="21">篇2</tspan></text></g>
<g id="p2-l1"><rect class="ry" x="643" y="1914" width="98" height="22" rx="4"/><text class="t ty" x="650" y="1929.3">一、指导目标：</text></g>
<g id="p2-a1"><rect class="ry" x="371" y="1720" width="254" height="83.6" rx="4"/><text class="t ty" x="378" y="1735.3"><tspan x="378">1、根据各班级幼儿年龄特征及实际情况，设</tspan><tspan x="378" dy="15.4">计心理活动，并按计划分班开展心理健康教育</tspan><tspan x="378" dy="15.4">活动及心理辅导活动，使不同年龄阶段的幼儿</tspan><tspan x="378" dy="15.4">得到相应的发展，各方面能获得不同的进步，</tspan><tspan x="378" dy="15.4">确保幼儿身心健康发展，愉快成长。</tspan></text></g>
<g id="p2-a2"><rect class="ry" x="371" y="1834" width="254" height="83.6" rx="4"/><text class="t ty" x="378" y="1849.3"><tspan x="378">2、针对各班特殊幼儿（如：较差的行为习惯</tspan><tspan x="378" dy="15.4">、性格孤僻、留守儿童、离异儿童等），给予</tspan><tspan x="378" dy="15.4">科学有效的心理辅导，通过多种形式的个别辅</tspan><tspan x="378" dy="15.4">导活动，使他们尽快摆脱障碍，改善自我，提</tspan><tspan x="378" dy="15.4">高心理健康水平，增强发展自我的能力。</tspan></text></g>
<g id="p2-a3"><rect class="ry" x="371" y="1948" width="254" height="83.6" rx="4"/><text class="t ty" x="378" y="1963.3"><tspan x="378">3、继续以面向全园幼儿为主，个别辅导为辅</tspan><tspan x="378" dy="15.4">，让心理健康教育及心理辅导真正进入课堂，</tspan><tspan x="378" dy="15.4">在课堂教学中要有别于其他学科的教学方式，</tspan><tspan x="378" dy="15.4">主要是通过活动让幼儿获得心理体验来改变自</tspan><tspan x="378" dy="15.4">己。</tspan></text></g>
<g id="p2-a4"><rect class="ry" x="371" y="2062" width="254" height="52.8" rx="4"/><text class="t ty" x="378" y="2077.3"><tspan x="378">4、对全园教师进行团体心理辅导活动，减轻</tspan><tspan x="378" dy="15.4">教师来自各方面的压力，关爱自我，提升教师</tspan><tspan x="378" dy="15.4">们的快乐指数！</tspan></text></g>
<g id="p2-l2"><rect class="ry" x="643" y="2247" width="98" height="22" rx="4"/><text class="t ty" x="650" y="2262.3">二、具体工作：</text></g>
<g id="p2-b1"><rect class="ry" x="491" y="2146" width="134" height="22" rx="4"/><text class="t ty" x="498" y="2161.3">1、加强团队凝聚力；</text></g>
<g id="p2-b2"><rect class="ry" x="371" y="2199" width="254" height="37.4" rx="4"/><text class="t ty" x="378" y="2214.3"><tspan x="378">2、为了更好的上好心理健康教育课，多与各</tspan><tspan x="378" dy="15.4">班老师交流，分享；</tspan></text></g>
<g id="p2-b3"><rect class="ry" x="371" y="2267" width="254" height="37.4" rx="4"/><text class="t ty" x="378" y="2282.3"><tspan x="378">3、实施心理健康教育课，以面向全体幼儿为</tspan><tspan x="378" dy="15.4">主，个别辅导为辅。</tspan></text></g>
<g id="p2-b4"><rect class="ry" x="371" y="2335" width="254" height="52.8" rx="4"/><text class="t ty" x="378" y="2350.3"><tspan x="378">4、做好“心联小屋”的工作、幼儿园博客的更</tspan><tspan x="378" dy="15.4">新、教师与家长的培训工作，为孩子的身心健</tspan><tspan x="378" dy="15.4">康做出努力。</tspan></text></g>
<g id="p2-l3"><rect class="ry" x="643" y="2623" width="98" height="22" rx="4"/><text class="t ty" x="650" y="2638.3">三、具体实施：</text></g>
<g id="p2-c1"><rect class="ry" x="527" y="2464" width="98" height="22" rx="4"/><text class="t ty" x="534" y="2479.3">1、教师方面：</text></g>
<g id="p2-c1a"><rect class="ry" x="259" y="2419" width="254" height="37.4" rx="4"/><text class="t ty" x="266" y="2434.3"><tspan x="266">（1）、对教师进行一次团体心理辅导的培训</tspan><tspan x="266" dy="15.4">。</tspan></text></g>
<g id="p2-c1b"><rect class="ry" x="259" y="2487" width="254" height="52.8" rx="4"/><text class="t ty" x="266" y="2502.3"><tspan x="266">（2）、为每个班的幼儿上好心理健康教育课</tspan><tspan x="266" dy="15.4">。备好心理健康教育课教案，并请各班的老师</tspan><tspan x="266" dy="15.4">随堂听课。</tspan></text></g>
<g id="p2-c2"><rect class="ry" x="527" y="2647" width="98" height="22" rx="4"/><text class="t ty" x="534" y="2662.3">2、幼儿方面：</text></g>
<g id="p2-c2a"><rect class="ry" x="259" y="2570" width="254" height="37.4" rx="4"/><text class="t ty" x="266" y="2585.3"><tspan x="266">（1）、通过心理活动，幼儿掌握寻找快乐的</tspan><tspan x="266" dy="15.4">方法，学会自我调适。</tspan></text></g>
<g id="p2-c2b"><rect class="ry" x="259" y="2638" width="254" height="37.4" rx="4"/><text class="t ty" x="266" y="2653.3"><tspan x="266">（2）、让幼儿学会变得坚强，勇敢的面对一</tspan><tspan x="266" dy="15.4">切困难。</tspan></text></g>
<g id="p2-c2c"><rect class="ry" x="259" y="2707" width="254" height="37.4" rx="4"/><text class="t ty" x="266" y="2722.3"><tspan x="266">（3）、让幼儿学会感恩，知道自己的事情自</tspan><tspan x="266" dy="15.4">己做，愿意为他人服务。</tspan></text></g>
<g id="p2-c3"><rect class="ry" x="371" y="2775" width="254" height="37.4" rx="4"/><text class="t ty" x="378" y="2790.3"><tspan x="378">3、家长方面：与家长多沟通；为全园家长组</tspan><tspan x="378" dy="15.4">织一次培训。（以家长会的形式）</tspan></text></g>
<g id="p2-l4"><rect class="ry" x="619" y="2957" width="122" height="22" rx="4"/><text class="t ty" x="626" y="2972.3">四、具体工作安排：</text></g>
<g id="p2-d1"><rect class="ry" x="346" y="2843" width="254" height="37.4" rx="4"/><text class="t ty" x="353" y="2858.3"><tspan x="353">小班心理健康教育活动：《我不害怕》、《一</tspan><tspan x="353" dy="15.4">起玩，真快乐》。</tspan></text></g>
<g id="p2-d2"><rect class="ry" x="346" y="2912" width="254" height="37.4" rx="4"/><text class="t ty" x="353" y="2927.3"><tspan x="353">中班心理健康教育活动：《让自己高兴》、《</tspan><tspan x="353" dy="15.4">花园》。</tspan></text></g>
<g id="p2-d3"><rect class="ry" x="346" y="2980" width="254" height="37.4" rx="4"/><text class="t ty" x="353" y="2995.3"><tspan x="353">大班心理健康教育活动：《一根羽毛也不能少</tspan><tspan x="353" dy="15.4">》、《要上小学啦》。</tspan></text></g>
<g id="p2-d4"><rect class="ry" x="346" y="3048" width="254" height="52.8" rx="4"/><text class="t ty" x="353" y="3063.3"><tspan x="353">3月份、6月份分别进行一次班级家长讲座，4</tspan><tspan x="353" dy="15.4">月底或5月初进行一次教师团体心理辅导培训</tspan><tspan x="353" dy="15.4">。</tspan></text></g>

<!-- 篇4 -->
<g id="n-p4"><rect x="768" y="3609" width="290" height="54" rx="27" fill="#fa8b6e"/><text class="n" x="795" y="3631"><tspan x="795">幼儿园健康领域教学工作计划精选</tspan><tspan x="795" dy="21">篇4</tspan></text></g>
<g id="p4-l1"><rect class="ro" x="655" y="3193" width="86" height="22" rx="4"/><text class="t to" x="662" y="3208.3">一、指导思想</text></g>
<g id="p4-a"><rect class="ro" x="383" y="3132" width="254" height="145.2" rx="4"/><text class="t to" x="390" y="3147.3"><tspan x="390">以“_”精神为指导，以“增进幼儿身体健康”为</tspan><tspan x="390" dy="15.4">目标，深入贯彻《中共中央国务院关于加强青</tspan><tspan x="390" dy="15.4">少年体育增强青少年体质的意见》（中发[20_</tspan><tspan x="390" dy="15.4">_]7号）对健康教育的要求，结合本园实际，</tspan><tspan x="390" dy="15.4">针对幼儿年龄特点，我们将积极开展幼儿健康</tspan><tspan x="390" dy="15.4">教育和体格锻炼活动，帮助幼儿形成良好的生</tspan><tspan x="390" dy="15.4">活卫生习惯，掌握必要的自护知识和技能，加</tspan><tspan x="390" dy="15.4">强幼儿常见病和传染病防治，提高幼儿健康水</tspan><tspan x="390" dy="15.4">平。</tspan></text></g>
<g id="p4-l2"><rect class="ro" x="631" y="3474" width="110" height="22" rx="4"/><text class="t to" x="638" y="3489.3">二、主要工作目标</text></g>
<g id="p4-b1"><rect class="ro" x="432" y="3307" width="182" height="22" rx="4"/><text class="t to" x="439" y="3322.3">1、杜绝集体食物中毒事件发生。</text></g>
<g id="p4-b2"><rect class="ro" x="360" y="3361" width="254" height="37.4" rx="4"/><text class="t to" x="367" y="3376.3"><tspan x="367">2、规范体育课及户外活动管理，保证每天两</tspan><tspan x="367" dy="15.4">小时有组织的户外体育活动。</tspan></text></g>
<g id="p4-b3"><rect class="ro" x="360" y="3429" width="254" height="52.8" rx="4"/><text class="t to" x="367" y="3444.3"><tspan x="367">3、加大健康知识宣传力度，健康教育开课率</tspan><tspan x="367" dy="15.4">达100%，幼儿健康知识考核知晓率达100%</tspan><tspan x="367" dy="15.4">。</tspan></text></g>
<g id="p4-b4"><rect class="ro" x="360" y="3512" width="254" height="37.4" rx="4"/><text class="t to" x="367" y="3527.3"><tspan x="367">4、新生入园健康体检率达100%，预防接种</tspan><tspan x="367" dy="15.4">证查验率100%。</tspan></text></g>
<g id="p4-b5"><rect class="ro" x="408" y="3580" width="206" height="22" rx="4"/><text class="t to" x="415" y="3595.3">5、加强卫生消毒管理，预防传染病。</text></g>
<g id="p4-b6"><rect class="ro" x="360" y="3634" width="254" height="37.4" rx="4"/><text class="t to" x="367" y="3649.3"><tspan x="367">6、利用健康教育简报及幼儿园宣传栏定期开</tspan><tspan x="367" dy="15.4">展卫生健康知识宣传工作。</tspan></text></g>
<g id="p4-l3"><rect class="ro" x="631" y="4057" width="110" height="22" rx="4"/><text class="t to" x="638" y="4072.3">三、主要工作措施</text></g>
<g id="p4-c1"><rect class="ro" x="420" y="3789" width="194" height="22" rx="4"/><text class="t to" x="427" y="3804.3">（一）成立健康教育工作领导小组</text></g>
<g id="p4-c1a"><rect class="ro" x="149" y="3701" width="254" height="68.2" rx="4"/><text class="t to" x="156" y="3716.3"><tspan x="156">为加强对幼儿园健康教育工作的领导，成立健</tspan><tspan x="156" dy="15.4">康教育领导小组，确定由孟昭燕、吴燕负责幼</tspan><tspan x="156" dy="15.4">儿园日常健康教育工作的布署，督促各班级按</tspan><tspan x="156" dy="15.4">规定开展体育锻炼及上好每一节健康教育课。</tspan></text></g>
<g id="p4-c1b"><rect class="ro" x="353" y="3800" width="50" height="22" rx="4"/><text class="t to" x="360" y="3815.3">组长：</text></g>
<g id="p4-c1c"><rect class="ro" x="341" y="3854" width="62" height="22" rx="4"/><text class="t to" x="348" y="3869.3">副组长：</text></g>
<g id="p4-c1d"><rect class="ro" x="167" y="3854" width="158" height="22" rx="4"/><text class="t to" x="174" y="3869.3">成员：各班教师全体教职工</text></g>
<g id="p4-c2"><rect class="ro" x="456" y="4013" width="158" height="22" rx="4"/><text class="t to" x="463" y="4028.3">（二）做好健康教育工作。</text></g>
<g id="p4-c2a"><rect class="ro" x="183" y="3906" width="254" height="83.6" rx="4"/><text class="t to" x="190" y="3921.3"><tspan x="190">（1）上好健康教育课：严格执行《中小学健</tspan><tspan x="190" dy="15.4">康教育指导纲要》的要求，全面按照“五有要</tspan><tspan x="190" dy="15.4">求”（有教材、有计划、有教案、有教师、年</tspan><tspan x="190" dy="15.4">终有考核）上好健康教育课。健康教师认真备</tspan><tspan x="190" dy="15.4">课，写好教案。</tspan></text></g>
<g id="p4-c2b"><rect class="ro" x="183" y="4021" width="254" height="160.6" rx="4"/><text class="t to" x="190" y="4036.3"><tspan x="190">（2）开展健康知识宣传活动：充分利用家园</tspan><tspan x="190" dy="15.4">联系栏、幼儿园宣传栏、健康教育简报等形式</tspan><tspan x="190" dy="15.4">向家长、幼儿宣传卫生保健知识、疾病预防知</tspan><tspan x="190" dy="15.4">识，提高大家的健康及防病意识。组织全园教</tspan><tspan x="190" dy="15.4">师学习《幼儿园卫生保健常规》《传染病防治</tspan><tspan x="190" dy="15.4">法》、《食品安全法》等相关法律法规，规范</tspan><tspan x="190" dy="15.4">幼儿园卫生、健康教育工作。充分利用各种节</tspan><tspan x="190" dy="15.4">日如“3.3”爱耳日，“5·20”营养日活动、“9·20</tspan><tspan x="190" dy="15.4">”爱牙日活动、“12·1”艾滋病防治宣传日等进</tspan><tspan x="190" dy="15.4">行专题宣传活动。</tspan></text></g>
<g id="p4-c3"><rect class="ro" x="408" y="4326" width="206" height="22" rx="4"/><text class="t to" x="415" y="4341.3">（三）规范户外活动及体育锻炼管理</text></g>
<g id="p4-c3a"><rect class="ro" x="135" y="4211" width="254" height="114.4" rx="4"/><text class="t to" x="142" y="4226.3"><tspan x="142">体育锻炼是增强幼儿体质，促进幼儿生长发育</tspan><tspan x="142" dy="15.4">有最效的方法，我们将严格遵守《幼儿园教育</tspan><tspan x="142" dy="15.4">纲要》要求，保证幼儿每天有两个小时的户外</tspan><tspan x="142" dy="15.4">体育活动，把出操时间与日常逃生演练相结合</tspan><tspan x="142" dy="15.4">，为各班级规定出操路线、出操时间，要求各</tspan><tspan x="142" dy="15.4">班级在规定时间内按规定路张到达集合地点，</tspan><tspan x="142" dy="15.4">积极熟悉疏散路线。</tspan></text></g>
<g id="p4-c3b"><rect class="ro" x="135" y="4357" width="254" height="99" rx="4"/><text class="t to" x="142" y="4372.3"><tspan x="142">户外活动时间规定为有组织的体育锻炼或者体</tspan><tspan x="142" dy="15.4">育游戏，要有教案、有计划、有活动效果记录</tspan><tspan x="142" dy="15.4">，各年级组每月确定一项体育锻炼项目，月底</tspan><tspan x="142" dy="15.4">进行评比，学期末根据《国发体质测定标准手</tspan><tspan x="142" dy="15.4">册（幼儿部分）》对幼儿体质进行测量，并把</tspan><tspan x="142" dy="15.4">成绩记入幼儿成长档案。</tspan></text></g>

<!-- 篇6 -->
<g id="n-p6"><rect x="768" y="4875" width="290" height="54" rx="27" fill="#a9d6cf"/><text class="n" x="795" y="4897"><tspan x="795">幼儿园健康领域教学工作计划精选</tspan><tspan x="795" dy="21">篇6</tspan></text></g>
<g id="p6-l1"><rect class="rt" x="655" y="4517" width="86" height="22" rx="4"/><text class="t tt" x="662" y="4532.3">一、指导思想</text></g>
<g id="p6-a"><rect class="rt" x="383" y="4485" width="254" height="83.6" rx="4"/><text class="t tt" x="390" y="4500.3"><tspan x="390">以《幼儿园工作规程》精神为指导，认真执行</tspan><tspan x="390" dy="15.4">《幼儿园卫生保健制度》，结合幼儿实际情况</tspan><tspan x="390" dy="15.4">，制定合理保健计划，把幼儿园安全、卫生、</tspan><tspan x="390" dy="15.4">保健工作放在主要位置，确保每个孩子在幼儿</tspan><tspan x="390" dy="15.4">园健康成长。</tspan></text></g>
<g id="p6-l2"><rect class="rt" x="655" y="4616" width="86" height="22" rx="4"/><text class="t tt" x="662" y="4631.3">二、工作目标</text></g>
<g id="p6-b"><rect class="rt" x="383" y="4599" width="254" height="52.8" rx="4"/><text class="t tt" x="390" y="4614.3"><tspan x="390">本学期以培养幼儿良好的卫生习惯，自我保护</tspan><tspan x="390" dy="15.4">能力为重点，加强各班的班级常规管理，不断</tspan><tspan x="390" dy="15.4">提高保育、保健工作的质量。</tspan></text></g>
<g id="p6-l3"><rect class="rt" x="655" y="5266" width="86" height="22" rx="4"/><text class="t tt" x="662" y="5281.3">三、主要工作</text></g>
<g id="p6-c1"><rect class="rt" x="556" y="4836" width="84" height="22" rx="4"/><text class="t tt" x="563" y="4851.3">(一)卫生保健</text></g>
<g id="p6-c1a"><rect class="rt" x="283" y="4684" width="254" height="37.4" rx="4"/><text class="t tt" x="290" y="4699.3"><tspan x="290">1、严格执行新生身体不健康者拒绝接收入园</tspan><tspan x="290" dy="15.4">。</tspan></text></g>
<g id="p6-c1b"><rect class="rt" x="283" y="4752" width="254" height="52.8" rx="4"/><text class="t tt" x="290" y="4767.3"><tspan x="290">2、继续做好晨检和全日健康观察记录工作，</tspan><tspan x="290" dy="15.4">认真执行一摸、二看、三问、四查的原则，发</tspan><tspan x="290" dy="15.4">现精神体温异常及时通知家长。</tspan></text></g>
<g id="p6-c1c"><rect class="rt" x="319" y="4836" width="218" height="22" rx="4"/><text class="t tt" x="326" y="4851.3">3、做好幼儿体格发育测量及评价工作。</text></g>
<g id="p6-c1d"><rect class="rt" x="283" y="4888" width="254" height="52.8" rx="4"/><text class="t tt" x="290" y="4903.3"><tspan x="290">4、随时随地检察园内环境卫生、班级环境卫</tspan><tspan x="290" dy="15.4">生及个人卫生，并随时记录卫生情况，与考核</tspan><tspan x="290" dy="15.4">挂钩。</tspan></text></g>
<g id="p6-c1e"><rect class="rt" x="283" y="4972" width="254" height="37.4" rx="4"/><text class="t tt" x="290" y="4987.3"><tspan x="290">5、定期开展卫生保健业务培训，全面提高保</tspan><tspan x="290" dy="15.4">育质量。</tspan></text></g>
<g id="p6-c1f"><rect class="rt" x="46" y="4980" width="216" height="22" rx="4"/><text class="t tt" x="53" y="4995.3">6预防甲型HINI流感，开展宣传教育。</text></g>
<g id="p6-c2"><rect class="rt" x="544" y="5124" width="96" height="22" rx="4"/><text class="t tt" x="551" y="5139.3">(二)饮食与营养</text></g>
<g id="p6-c2a"><rect class="rt" x="270" y="5041" width="254" height="37.4" rx="4"/><text class="t tt" x="277" y="5056.3"><tspan x="277">1、严格管理好幼儿的膳食，每周制定合理食</tspan><tspan x="277" dy="15.4">谱，食品品种随季节变化作调整。</tspan></text></g>
<g id="p6-c2b"><rect class="rt" x="270" y="5109" width="254" height="37.4" rx="4"/><text class="t tt" x="277" y="5124.3"><tspan x="277">2、遵守开饭时间，不宜提早或推迟，做好餐</tspan><tspan x="277" dy="15.4">前准备，餐后管理工作。</tspan></text></g>
<g id="p6-c2c"><rect class="rt" x="270" y="5177" width="254" height="68.2" rx="4"/><text class="t tt" x="277" y="5192.3"><tspan x="277">3、幼儿在进餐过程中，教师要让幼儿情绪愉</tspan><tspan x="277" dy="15.4">快，专心用餐，细嚼慢咽，不挑食，不剩饭菜</tspan><tspan x="277" dy="15.4">，教师经常向幼儿宣传食物的.营养价值及对</tspan><tspan x="277" dy="15.4">生长发育的好处。</tspan></text></g>
<g id="p6-c3"><rect class="rt" x="556" y="5417" width="84" height="22" rx="4"/><text class="t tt" x="563" y="5432.3">(三)卫生习惯</text></g>
<g id="p6-c3a"><rect class="rt" x="283" y="5275" width="254" height="68.2" rx="4"/><text class="t tt" x="290" y="5290.3"><tspan x="290">1、睡眠习惯足够的睡眠对幼儿身高发育起着</tspan><tspan x="290" dy="15.4">重要作用，教师要做好睡前教育，教师和保育</tspan><tspan x="290" dy="15.4">员为幼儿创造良好的心理环境，让幼儿愉快入</tspan><tspan x="290" dy="15.4">睡。</tspan></text></g>
<g id="p6-c3b"><rect class="rt" x="283" y="5375" width="254" height="37.4" rx="4"/><text class="t tt" x="290" y="5390.3"><tspan x="290">2、盥洗习惯培养幼儿养成良好的盥洗习惯。</tspan><tspan x="290" dy="15.4">饭前、便后要洗手。</tspan></text></g>
<g id="p6-c3c"><rect class="rt" x="283" y="5443" width="254" height="52.8" rx="4"/><text class="t tt" x="290" y="5458.3"><tspan x="290">3、学会整理幼儿活动室中，要养成哪里拿的</tspan><tspan x="290" dy="15.4">东西哪里放，并归放整齐的好习惯。中大班幼</tspan><tspan x="290" dy="15.4">儿要学会自己整理床铺。</tspan></text></g>
<g id="p6-c3d"><rect class="rt" x="283" y="5526" width="254" height="37.4" rx="4"/><text class="t tt" x="290" y="5541.3"><tspan x="290">4、班级卫生习惯和行为规范结合起来，在一</tspan><tspan x="290" dy="15.4">日生活常规中多培养、练习。</tspan></text></g>
<g id="p6-c4"><rect class="rt" x="556" y="5697" width="84" height="22" rx="4"/><text class="t tt" x="563" y="5712.3">(四)消毒隔离</text></g>
<g id="p6-c4a"><rect class="rt" x="355" y="5595" width="182" height="22" rx="4"/><text class="t tt" x="362" y="5610.3">1、实行一人一杯一巾专用制度。</text></g>
<g id="p6-c4b"><rect class="rt" x="283" y="5647" width="254" height="37.4" rx="4"/><text class="t tt" x="290" y="5662.3"><tspan x="290">2、各活动室、厕所定时消毒，并做好消毒记</tspan><tspan x="290" dy="15.4">录。</tspan></text></g>
<g id="p6-c4c"><rect class="rt" x="283" y="5715" width="254" height="37.4" rx="4"/><text class="t tt" x="290" y="5730.3"><tspan x="290">3、定期对幼儿的被褥、图书、玩具进行消毒</tspan><tspan x="290" dy="15.4">。</tspan></text></g>
<g id="p6-c4d"><rect class="rt" x="283" y="5784" width="254" height="52.8" rx="4"/><text class="t tt" x="290" y="5799.3"><tspan x="290">4、做好疾病预防工作，把好晨检关，发现传</tspan><tspan x="290" dy="15.4">染病及时消毒隔离，并及时通知家长送医院治</tspan><tspan x="290" dy="15.4">疗。</tspan></text></g>
</g>
</svg>
